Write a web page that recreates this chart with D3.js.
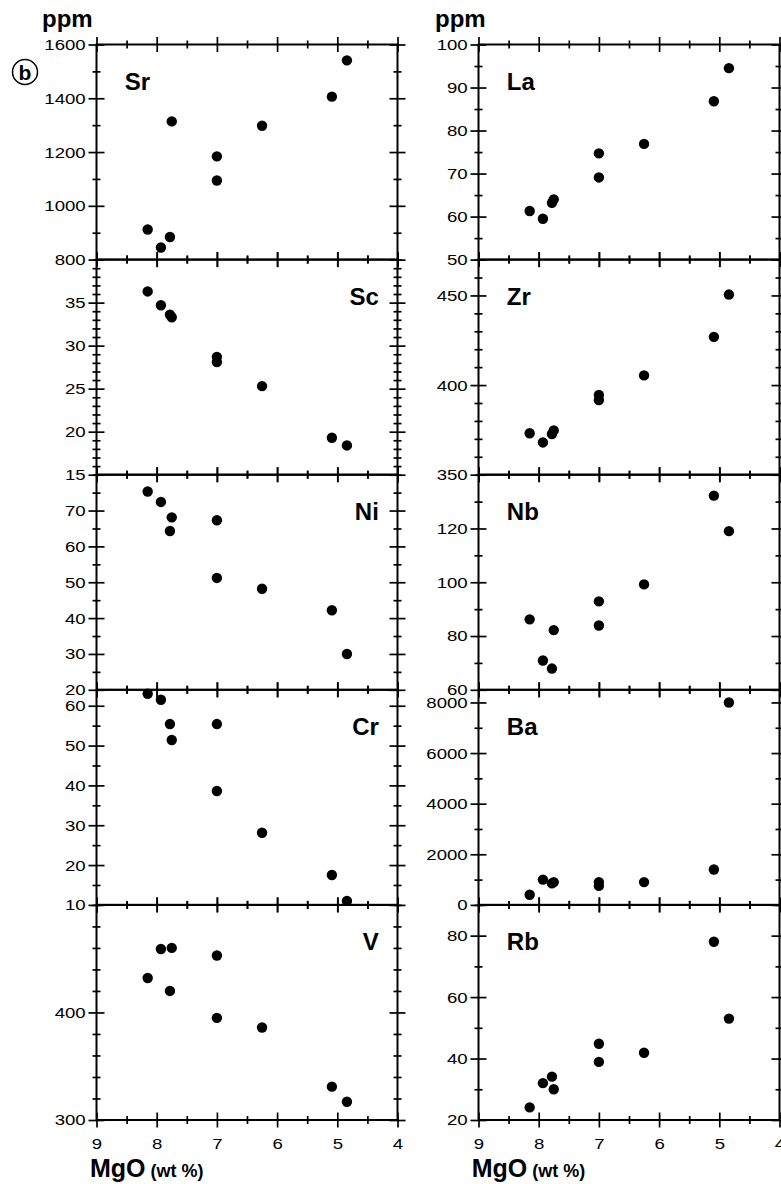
<!DOCTYPE html>
<html>
<head>
<meta charset="utf-8">
<script src="https://cdn.jsdelivr.net/npm/d3@7"></script>
<style>
  body { margin: 0; background: #fff; }
  svg { display: block; font-family: "Liberation Sans", Arial, Helvetica, sans-serif; }
  .tick text { font-size: 15.5px; font-family: "Liberation Sans", Arial, Helvetica, sans-serif; }
  .tick line { stroke-width: 1.7px; }
</style>
</head>
<body>
<div id="chart"></div>
<script>
// MgO (wt %) of the nine samples, same order in every element array
const mgo = [8.15, 7.93, 7.78, 7.75, 7.0, 7.0, 6.25, 5.09, 4.84]

// ppm values
const sr = [912, 845, 884, 1314, 1184, 1094, 1298, 1406, 1541]
const sc = [36.3, 34.7, 33.6, 33.3, 28.7, 28.1, 25.3, 19.3, 18.4]
const ni = [75.3, 72.4, 64.3, 68.1, 67.3, 51.2, 48.2, 42.2, 30]
const cr = [63, 61.5, 55.4, 51.4, 55.4, 38.6, 28.1, 17.5, 11]
const v = [432, 459, 420, 460, 453, 395, 386, 331, 317]
const la = [61.3, 59.5, 63.2, 64.0, 74.7, 69.1, 76.9, 86.8, 94.5]
const zr = [373.1, 368, 372.7, 374.7, 394.5, 391.7, 405.4, 426.9, 450.5]
const nb = [86.2, 70.9, 67.9, 82.2, 92.9, 83.9, 99.2, 132.2, 119]
const ba = [400, 1000, 850, 900, 900, 750, 900, 1400, 8000]
const rb = [24.1, 32, 34.1, 30, 44.8, 38.9, 41.9, 78, 53]

// axis ticks
const mgoTicks = [9, 8, 7, 6, 5, 4]
const mgoMinor = [8.5, 7.5, 6.5, 5.5, 4.5]
const srTicks = [800, 1000, 1200, 1400, 1600]
const scTicks = [15, 20, 25, 30, 35]
const niTicks = [20, 30, 40, 50, 60, 70]
const crTicks = [10, 20, 30, 40, 50, 60]
const vTicks = [300, 400]
const laTicks = [50, 60, 70, 80, 90, 100]
const zrTicks = [350, 400, 450]
const nbTicks = [60, 80, 100, 120]
const baTicks = [0, 2000, 4000, 6000, 8000]
const rbTicks = [20, 40, 60, 80]

const WIDTH = 781, HEIGHT = 1184
const COL_X = [96.5, 478.5]
const TOP = 44.5
const PANEL_W = 301
const PANEL_H = 215.1

// one entry per panel: [column, row, name, values, domain, ticks, minor step, label side]
const panels = [
  [0, 0, "Sr", sr, [800, 1600], srTicks, 100, "left"],
  [0, 1, "Sc", sc, [15, 40], scTicks, 1, "right"],
  [0, 2, "Ni", ni, [20, 80], niTicks, 5, "right"],
  [0, 3, "Cr", cr, [10, 64], crTicks, 5, "right"],
  [0, 4, "V", v, [300, 500], vTicks, 20, "right"],
  [1, 0, "La", la, [50, 100], laTicks, 5, "left"],
  [1, 1, "Zr", zr, [350, 470], zrTicks, 10, "left"],
  [1, 2, "Nb", nb, [60, 140], nbTicks, 10, "left"],
  [1, 3, "Ba", ba, [0, 8500], baTicks, 1000, "left"],
  [1, 4, "Rb", rb, [20, 90], rbTicks, 10, "left"]
]

const svg = d3.select("#chart").append("svg")
  .attr("width", WIDTH)
  .attr("height", HEIGHT)

const x = d3.scaleLinear().domain([9, 4]).range([0, PANEL_W])

// draws ticks that cross the line: one axis each way
function crossAxis(g, outer, inner, scale, values, size, labels) {
  const a = outer(scale).tickValues(values).tickSize(size).tickPadding(1)
  a.tickFormat(labels ? d3.format("d") : "")
  g.append("g").call(a).call(s => s.select(".domain").remove())
  g.append("g").call(inner(scale).tickValues(values).tickSize(size).tickFormat(""))
    .call(s => s.select(".domain").remove())
}

function minorValues(domain, step, majors) {
  const out = []
  for (let t = domain[0]; t <= domain[1] + 1e-9; t += step) {
    if (!majors.some(m => Math.abs(m - t) < 1e-9)) out.push(t)
  }
  return out
}

panels.forEach(([col, row, name, values, domain, ticks, step, side]) => {
  const g = svg.append("g")
    .attr("transform", `translate(${COL_X[col]}, ${TOP + row * PANEL_H})`)

  const y = d3.scaleLinear().domain(domain).range([PANEL_H, 0])
  const minor = minorValues(domain, step, ticks)

  const axes = g.append("g")

  // left edge with labels
  const left = axes.append("g")
  crossAxis(left, d3.axisLeft, d3.axisRight, y, ticks, 8, true)
  crossAxis(left, d3.axisLeft, d3.axisRight, y, minor, 4, false)
  left.selectAll("text").attr("transform", "scale(1.2,1)")

  // right edge
  const right = axes.append("g").attr("transform", `translate(${PANEL_W}, 0)`)
  crossAxis(right, d3.axisLeft, d3.axisRight, y, ticks, 8, false)
  crossAxis(right, d3.axisLeft, d3.axisRight, y, minor, 4, false)

  // top edge
  const top = axes.append("g")
  crossAxis(top, d3.axisTop, d3.axisBottom, x, mgoTicks, 7.5, false)
  crossAxis(top, d3.axisTop, d3.axisBottom, x, mgoMinor, 4, false)

  // bottom edge, labelled on the last row
  const bottom = axes.append("g").attr("transform", `translate(0, ${PANEL_H})`)
  crossAxis(bottom, d3.axisBottom, d3.axisTop, x, mgoTicks, 7.5, false)
  crossAxis(bottom, d3.axisBottom, d3.axisTop, x, mgoMinor, 4, false)
  if (row === 4) {
    bottom.append("g")
      .call(d3.axisBottom(x).tickValues(mgoTicks).tickSize(0).tickPadding(17.5).tickFormat(d3.format("d")))
      .call(s => s.select(".domain").remove())
      .selectAll("text").attr("transform", "scale(1.2,1)")
  }

  g.append("rect")
    .attr("width", PANEL_W)
    .attr("height", PANEL_H)
    .attr("fill", "none")
    .attr("stroke", "#000")
    .attr("stroke-width", 2)

  g.selectAll("circle")
    .data(values)
    .enter().append("circle")
    .attr("cx", (d, i) => x(mgo[i]))
    .attr("cy", d => y(d))
    .attr("r", 5.2)
    .attr("fill", "#000")

  g.append("text")
    .attr("x", side === "left" ? 28.3 : PANEL_W - 18.7)
    .attr("y", 45)
    .attr("text-anchor", side === "left" ? "start" : "end")
    .attr("font-size", 24)
    .attr("font-weight", "bold")
    .text(name)
})

// column headings and axis titles
const ppmX = [42, 435]
ppmX.forEach(px => {
  svg.append("text")
    .attr("x", px)
    .attr("y", 26.7)
    .attr("font-size", 24)
    .attr("font-weight", "bold")
    .text("ppm")
})

const titleX = [90, 471.7]
titleX.forEach(tx => {
  const t = svg.append("text")
    .attr("x", tx)
    .attr("y", 1177)
    .attr("font-weight", "bold")
  t.append("tspan").attr("font-size", 25).text("MgO")
  t.append("tspan").attr("font-size", 18).text(" (wt %)")
})

// panel letter
svg.append("circle")
  .attr("cx", 25)
  .attr("cy", 72)
  .attr("r", 12.5)
  .attr("fill", "none")
  .attr("stroke", "#000")
  .attr("stroke-width", 1.5)
svg.append("text")
  .attr("x", 25)
  .attr("y", 79.5)
  .attr("text-anchor", "middle")
  .attr("font-size", 21)
  .attr("font-weight", "bold")
  .text("b")
</script>
</body>
</html>
